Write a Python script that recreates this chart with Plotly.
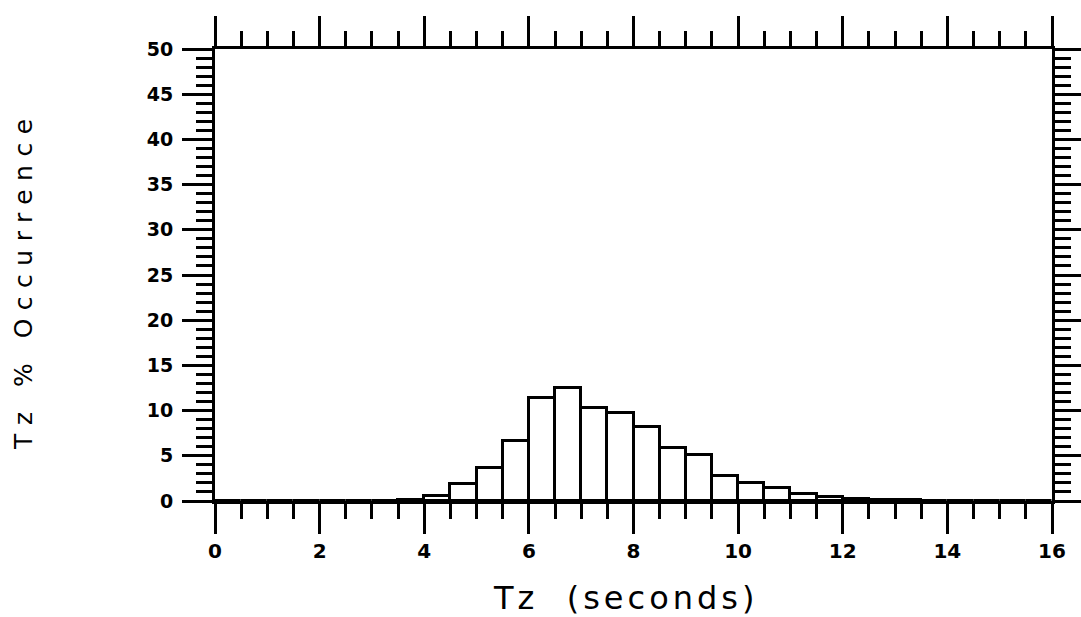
import plotly.graph_objects as go

# bin edges every 0.5 s from 0 to 16
bin_left = [i * 0.5 for i in range(32)]
pct = [0, 0, 0, 0, 0, 0, 0, 0.15,
       0.5, 1.9, 3.6, 6.6, 11.4, 12.5, 10.3, 9.7,
       8.2, 5.9, 5.1, 2.8, 2.0, 1.4, 0.8, 0.45,
       0.25, 0.15, 0.08, 0.05, 0.03, 0.02, 0.01, 0.01]
x_ticks = [0, 2, 4, 6, 8, 10, 12, 14, 16]
y_ticks = [0, 5, 10, 15, 20, 25, 30, 35, 40, 45, 50]

centers = [b + 0.25 for b in bin_left]

fig = go.Figure()
fig.add_trace(go.Bar(
    x=centers, y=pct, width=0.5,
    marker=dict(color="white", line=dict(color="black", width=3)),
    showlegend=False, hoverinfo="skip",
))

axis_common = dict(
    showline=True, linecolor="black", linewidth=3, mirror="ticks",
    ticks="outside", tickcolor="black", tickwidth=3, ticklen=30,
    showgrid=False, zeroline=False, automargin=False,
)

fig.update_xaxes(
    range=[0, 16], tickvals=x_ticks, ticktext=[str(v) for v in x_ticks],
    minor=dict(dtick=0.5, ticks="outside", ticklen=15, tickwidth=3, tickcolor="black", showgrid=False),
    tickfont=dict(family="DejaVu Sans", size=20, color="black", weight="bold"),
    ticklabelstandoff=0,
    **axis_common,
)
fig.update_yaxes(
    range=[0, 50], tickvals=y_ticks, ticktext=[str(v) for v in y_ticks],
    minor=dict(dtick=1, ticks="outside", ticklen=16, tickwidth=3, tickcolor="black", showgrid=False),
    tickfont=dict(family="DejaVu Sans", size=19, color="black", weight="bold"),
    ticklabelstandoff=5,
    **axis_common,
)

fig.add_annotation(
    text="Tz  (seconds)", xref="paper", yref="paper", x=0.49, y=-0.214,
    xanchor="center", yanchor="middle", showarrow=False,
    font=dict(family="DejaVu Sans", size=32, color="black"),
)
fig.add_annotation(
    text="Tz % Occurrence", xref="paper", yref="paper", x=-0.228, y=0.489,
    xanchor="center", yanchor="middle", showarrow=False, textangle=-90,
    font=dict(family="DejaVu Sans", size=25, color="black"),
)

fig.update_layout(
    width=1081, height=617, autosize=False,
    margin=dict(l=215, r=29, t=49, b=116, autoexpand=False),
    paper_bgcolor="white", plot_bgcolor="white",
    bargap=0,
)

post = """
document.body.style.margin = '0';
document.body.style.overflow = 'hidden';
var a = document.querySelectorAll('.annotation-text');
if (a[0]) a[0].style.letterSpacing = '4px';
if (a[1]) a[1].style.letterSpacing = '8.5px';
"""
fig.write_html("out.html", config={"responsive": False}, post_script=post)
